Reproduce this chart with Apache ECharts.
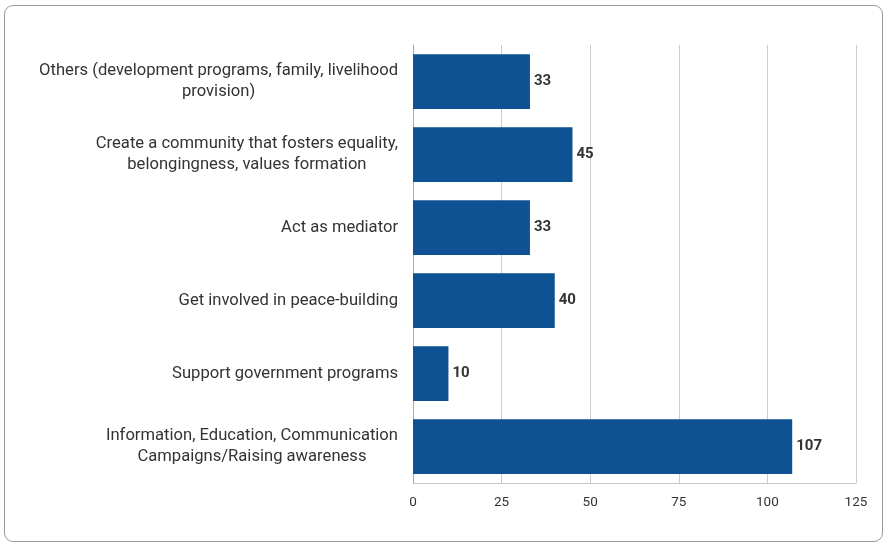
<!DOCTYPE html>
<html>
<head>
<meta charset="utf-8">
<script src="https://cdn.jsdelivr.net/npm/echarts@6/dist/echarts.min.js"></script>
<style>
  html, body { margin: 0; padding: 0; background: #fff; }
  #frame {
    position: absolute; left: 4px; top: 5px; width: 879px; height: 537px;
    border: 1px solid #9a9a9a; border-radius: 9px; box-sizing: border-box;
  }
  #chart { position: absolute; left: 0; top: 0; width: 886px; height: 545px; }
</style>
</head>
<body>
<div id="frame"></div>
<div id="chart"></div>
<script>
// Responses, listed bottom-to-top as drawn on the category axis
const categories = [
  "Information, Education, Communication\nCampaigns/Raising awareness",
  "Support government programs",
  "Get involved in peace-building",
  "Act as mediator",
  "Create a community that fosters equality,\nbelongingness, values formation",
  "Others (development programs, family, livelihood\nprovision)"
];
const counts = [107, 10, 40, 33, 45, 33];
const xTicks = [0, 25, 50, 75, 100, 125];

const chart = echarts.init(document.getElementById('chart'), null, { renderer: 'canvas' });

chart.setOption({
  animation: false,
  textStyle: { fontFamily: 'Roboto, "Noto Sans", sans-serif' },
  grid: { left: 413, right: 30, top: 45, bottom: 62, containLabel: false },
  xAxis: {
    type: 'value',
    min: xTicks[0],
    max: xTicks[xTicks.length - 1],
    interval: 25,
    axisLine: { show: true, lineStyle: { color: '#c8c8c8', width: 1 } },
    axisTick: { show: false },
    splitLine: { show: true, lineStyle: { color: '#cccccc', width: 1 } },
    axisLabel: { color: '#333', fontSize: 13.5, margin: 13, fontFamily: 'Roboto' }
  },
  yAxis: {
    type: 'category',
    data: categories,
    axisLine: { show: true, lineStyle: { color: '#aaaaaa', width: 1 } },
    axisTick: { show: false },
    axisLabel: {
      margin: 15,
      color: '#333',
      fontSize: 16.6,
      lineHeight: 21,
      fontFamily: 'Roboto',
      formatter: function (v) {
        return v.split('\n').map(function (s) { return '{c|' + s + '}'; }).join('\n');
      },
      rich: { c: { align: 'center', fontSize: 16.6, lineHeight: 21, color: '#333', fontFamily: 'Roboto' } }
    }
  },
  series: [{
    type: 'bar',
    data: counts,
    barCategoryGap: '25%',
    itemStyle: { color: '#0e5293' },
    label: {
      show: true,
      position: 'right',
      distance: 4,
      color: '#333',
      fontWeight: 'bold',
      fontSize: 15,
      fontFamily: 'Roboto'
    }
  }]
});
</script>
</body>
</html>
